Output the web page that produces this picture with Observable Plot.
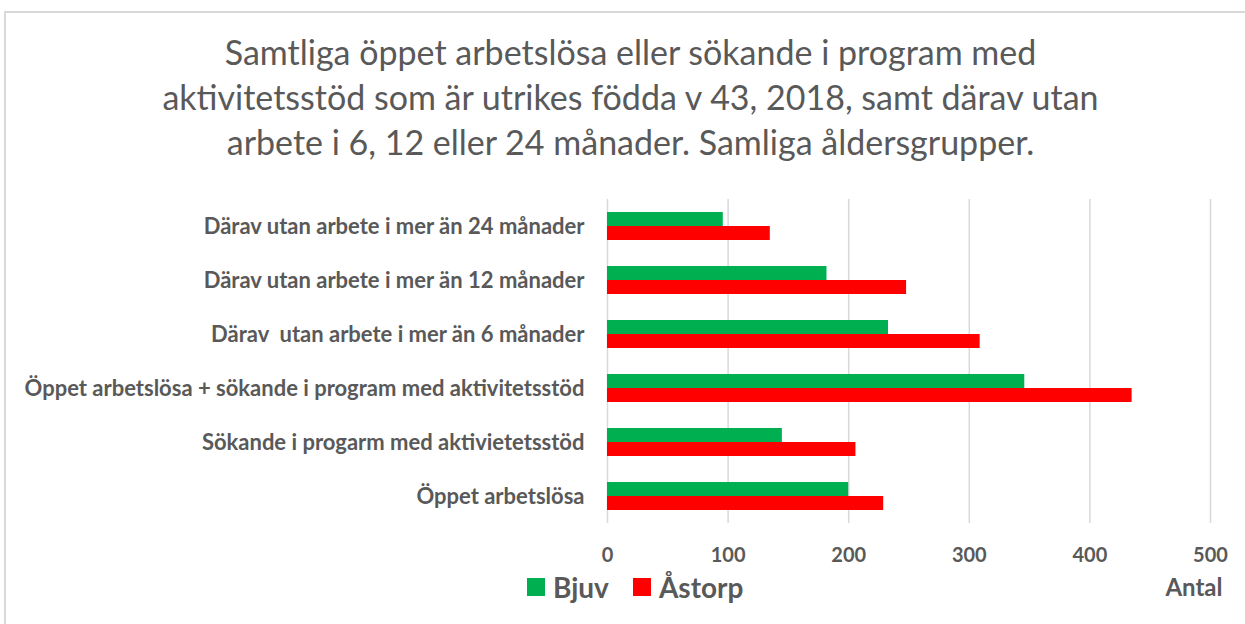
<!DOCTYPE html>
<html>
<head>
<meta charset="utf-8">
<script src="https://cdn.jsdelivr.net/npm/d3@7"></script>
<script src="https://cdn.jsdelivr.net/npm/@observablehq/plot@0.6"></script>
<style>
  html, body { margin: 0; padding: 0; background: #fff; }
  body { width: 1245px; height: 624px; position: relative; overflow: hidden; font-family: Lato, "Open Sans", sans-serif; color: #595959; }
  #frame { position: absolute; left: 4px; top: 11px; width: 1260px; height: 640px; border-top: 2px solid #d9d9d9; border-left: 2px solid #d9d9d9; box-sizing: border-box; }
  #title { position: absolute; left: 8px; width: 1245px; top: 29px; text-align: center; font-size: 34px; font-weight: 400; line-height: 45px; color: #595959; white-space: nowrap; }
  #chart { position: absolute; left: 0; top: 180px; }
  #legend { position: absolute; left: 527px; top: 570px; display: flex; align-items: center; font-weight: 700; font-size: 28px; color: #595959; }
  #legend .sw { width: 18px; height: 18px; display: inline-block; margin-right: 8px; }
  #legend .item { display: flex; align-items: center; margin-right: 24px; }
</style>
</head>
<body>
<div id="frame"></div>
<div id="title">Samtliga öppet arbetslösa eller sökande i program med<br>aktivitetsstöd som är utrikes födda v 43, 2018, samt därav utan<br>arbete i 6, 12 eller 24 månader. Samliga åldersgrupper.</div>
<div id="chart"></div>
<div id="legend"></div>
<script>
const categories = [
  "Därav utan arbete i mer än 24 månader",
  "Därav utan arbete i mer än 12 månader",
  "Därav  utan arbete i mer än 6 månader",
  "Öppet arbetslösa + sökande i program med aktivitetsstöd",
  "Sökande i progarm med aktivietetsstöd",
  "Öppet arbetslösa"
];
const seriesNames = ["Bjuv", "Åstorp"];
const bjuv   = [96, 182, 233, 346, 145, 200];
const astorp = [135, 248, 309, 435, 206, 229];
const xTicks = [0, 100, 200, 300, 400, 500];
const xTitle = "Antal";
const colors = ["#00B050", "#FF0000"];

const rows = [];
categories.forEach((c, i) => {
  rows.push({category: c, series: "Bjuv", value: bjuv[i]});
  rows.push({category: c, series: "Åstorp", value: astorp[i]});
});

const plot = Plot.plot({
  width: 1245,
  height: 444,
  marginTop: 19,
  marginBottom: 101,
  marginLeft: 607,
  marginRight: 35,
  style: {fontFamily: "Lato, 'Open Sans', sans-serif", color: "#595959", background: "transparent"},
  x: {domain: [0, 500], ticks: xTicks},
  y: {domain: categories, paddingInner: 0.48, paddingOuter: 0.24},
  color: {domain: seriesNames, range: colors},
  marks: [
    Plot.gridX(xTicks, {stroke: "#d9d9d9", strokeOpacity: 1, strokeWidth: 1.5}),
    Plot.barX(rows.filter(d => d.series === "Bjuv"), {x: "value", y: "category", fill: "series", insetBottom: 14}),
    Plot.barX(rows.filter(d => d.series === "Åstorp"), {x: "value", y: "category", fill: "series", insetTop: 14}),
    Plot.axisY({tickSize: 0, tickPadding: 23, fontSize: 22, fontWeight: 700, fill: "#595959", label: null}),
    Plot.axisX(xTicks, {tickSize: 0, tickPadding: 24, fontSize: 20, fontWeight: 700, fill: "#595959", label: null}),
    Plot.text([xTitle], {text: d => d, frameAnchor: "bottom-right", textAnchor: "end", lineAnchor: "middle",
      dy: 65, dx: 12, fontSize: 24, fontWeight: 700, fill: "#595959"})
  ]
});
document.getElementById("chart").appendChild(plot);

const legend = document.getElementById("legend");
seriesNames.forEach((s, i) => {
  const item = document.createElement("div");
  item.className = "item";
  const sw = document.createElement("span");
  sw.className = "sw";
  sw.style.background = colors[i];
  const t = document.createElement("span");
  t.textContent = s;
  item.appendChild(sw);
  item.appendChild(t);
  legend.appendChild(item);
});
</script>
</body>
</html>
